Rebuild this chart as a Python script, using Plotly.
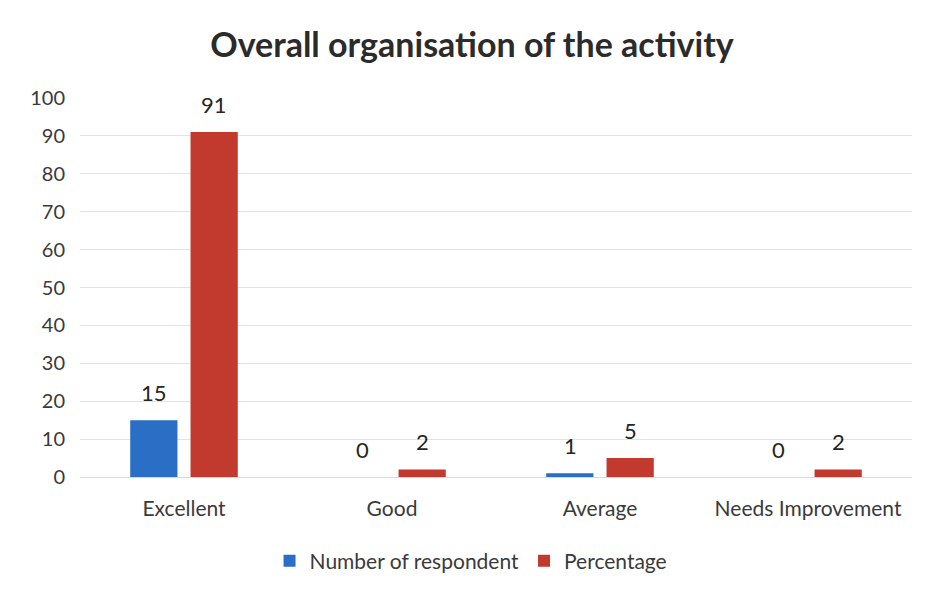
import plotly.graph_objects as go

categories = ["Excellent", "Good", "Average", "Needs Improvement"]
respondents = [15, 0, 1, 0]
percentage = [91, 2, 5, 2]
series_names = ["Number of respondent", "Percentage"]
colors = ["#2a6ec6", "#c23a2e"]

FONT = "Lato"
TXT = "#3a3a3a"

fig = go.Figure()
for name, vals, col in zip(series_names, [respondents, percentage], colors):
    fig.add_trace(go.Bar(x=categories, y=vals, name=name, marker_color=col,
                         marker_line_width=0))

# data labels
for j, vals in enumerate([respondents, percentage]):
    for cat, v in zip(categories, vals):
        fig.add_annotation(x=cat, y=v, text=str(v), showarrow=False,
                           xshift=(-30 if j == 0 else 30), yshift=12,
                           yanchor="bottom",
                           font=dict(family=FONT, size=22, color="#262626"))

fig.update_layout(
    width=928, height=594,
    paper_bgcolor="white", plot_bgcolor="white",
    title=dict(text="<b>Overall organisation of the activity</b>", x=0.5, xanchor="center",
               y=0.938, yanchor="middle",
               font=dict(family=FONT, size=34, color="#2b2b2b")),
    margin=dict(l=72, r=24, t=90, b=125),
    barmode="group", bargap=0.42, bargroupgap=0.217,
    font=dict(family=FONT, size=21, color=TXT),
    xaxis=dict(showgrid=False, showline=True, linecolor="#d9d9d9", linewidth=1,
               ticks="", ticklabelstandoff=13, tickfont=dict(size=21, color=TXT)),
    yaxis=dict(range=[0, 100], dtick=10, showgrid=True, gridcolor="#e3e3e3",
               zeroline=False, ticks="", ticklabelstandoff=14,
               tickfont=dict(size=20, color=TXT)),
    legend=dict(orientation="h", x=0.47, xanchor="center", y=-0.222, yanchor="middle",
                font=dict(size=21, color=TXT), itemwidth=30),
    showlegend=True,
)

fig.write_html("out.html")
